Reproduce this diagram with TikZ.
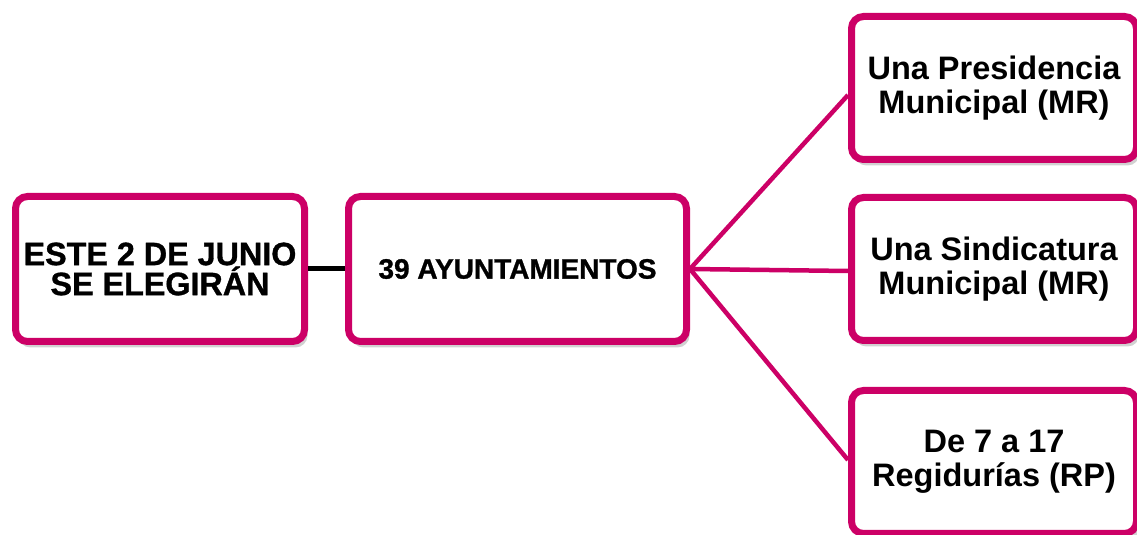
\documentclass[tikz,border=0pt]{standalone}
\usepackage{fontspec}
\setmainfont{Liberation Sans}
\newfontfamily\heavyfont[FakeBold=1]{Liberation Sans Bold}
\usepackage{tikz}
\usetikzlibrary{shapes,arrows,positioning,shadows}
\usepackage{xcolor}
\definecolor{pinkNodeColor}{HTML}{CC0066}
\tikzset{
  boxnode/.style = {align=center, inner sep=0pt, text centered, rectangle,
    rounded corners=12pt, draw=pinkNodeColor, line width=7pt, fill=white,
    drop shadow={shadow xshift=3pt, shadow yshift=-6pt, fill=black!30, opacity=.6}},
  leftNode/.style = {boxnode, minimum width=289pt, minimum height=145pt,
    font=\heavyfont\fontsize{32.3}{30}\selectfont},% caja de la izquierda
  midNode/.style = {boxnode, minimum width=338pt, minimum height=145pt,
    font=\heavyfont\fontsize{28}{32}\selectfont},% caja central
  rightNode/.style = {boxnode, minimum width=285pt, minimum height=143pt,
    font=\bfseries\fontsize{32.5}{34}\selectfont},% cajas de la derecha
  blackLink/.style = {draw=black, line width=5pt},
  pinkLink/.style = {draw=pinkNodeColor, line width=4.5pt},
}
\begin{document}
\begin{tikzpicture}[x=1pt,y=1pt]
\useasboundingbox (0,0) rectangle (1137,535);
\node [leftNode] (este) at (160,266) {ESTE 2 DE JUNIO\\SE ELEGIRÁN};
\node [midNode, right=37pt of este] (ayunt) {39 AYUNTAMIENTOS};
\node [rightNode, right=158pt of ayunt] (sind) {Una Sindicatura\\Municipal (MR)};
\node [rightNode, above=31pt of sind] (pres) {Una Presidencia\\Municipal (MR)};
\node [rightNode, below=43pt of sind] (regid) {De 7 a 17\\Regidurías (RP)};
\draw [blackLink] (este) -- (ayunt);
\draw [pinkLink] (ayunt.east) -- ([yshift=-7pt]pres.west);
\draw [pinkLink] (ayunt.east) -- ([yshift=-2pt]sind.west);
\draw [pinkLink] (ayunt.east) -- ([yshift=2pt]regid.west);
\end{tikzpicture}
\end{document}
